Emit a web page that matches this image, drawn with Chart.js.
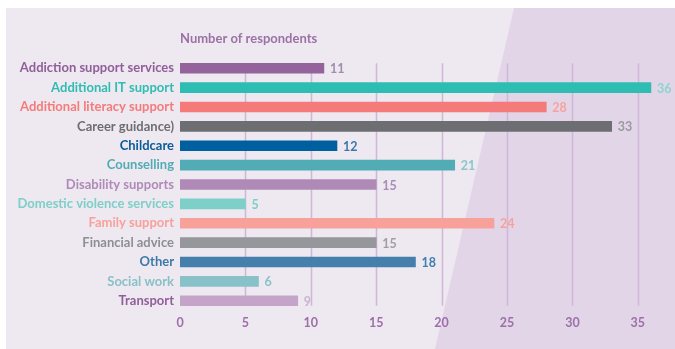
<!DOCTYPE html>
<html>
<head>
<meta charset="utf-8">
<script src="https://cdn.jsdelivr.net/npm/chart.js@4/dist/chart.umd.min.js"></script>
<style>
  html, body { margin: 0; padding: 0; background: #fff; }
  #wrap { width: 675px; height: 349px; position: relative; }
</style>
</head>
<body>
<div id="wrap"><canvas id="supportChart" width="675" height="349"></canvas></div>
<script>
const services = [
  'Addiction support services', 'Additional IT support', 'Additional literacy support',
  'Career guidance)', 'Childcare', 'Counselling', 'Disability supports',
  'Domestic violence services', 'Family support', 'Financial advice', 'Other',
  'Social work', 'Transport'
];
const respondents = [11, 36, 28, 33, 12, 21, 15, 5, 24, 15, 18, 6, 9];
const xTicks = [0, 5, 10, 15, 20, 25, 30, 35];

const barColors = ['#95639b', '#2ebdb3', '#f47b7a', '#6d6e71', '#005f9f', '#52acb5', '#b08ab7',
  '#7dcfc8', '#f8a19a', '#96979a', '#4580ad', '#88c1c8', '#c4a5c9'];
const labelColors = ['#8f5f99', '#2ebdb3', '#f47b7a', '#6d6e71', '#0a5c99', '#52acb5', '#b08ab7',
  '#7dcfc8', '#f8a19a', '#8e8f92', '#3d79a8', '#88c1c8', '#8f5f99'];
const valueColors = ['#a08eab', '#8fd3cf', '#f7a29e', '#9a9a9e', '#3d78aa', '#8ac6cc', '#a98db5',
  '#7dcfc8', '#f8a19a', '#a0a0a3', '#3f7fb0', '#88c1c8', '#cbb6cf'];

const FONT = 'Lato, "Open Sans", sans-serif';

// panel background with the darker slanted block on the right
const backdrop = {
  id: 'backdrop',
  beforeDraw(chart) {
    const { ctx, width, height } = chart;
    ctx.save();
    ctx.fillStyle = '#ffffff';
    ctx.fillRect(0, 0, width, height);
    ctx.fillStyle = '#eee8f0';
    ctx.fillRect(6, 8, width - 6, height - 8);
    ctx.fillStyle = '#e2d5e7';
    ctx.beginPath();
    ctx.moveTo(514, 8);
    ctx.lineTo(width, 8);
    ctx.lineTo(width, height);
    ctx.lineTo(435, height);
    ctx.closePath();
    ctx.fill();
    ctx.restore();
  }
};

// vertical gridlines, a bit shorter than the plot area
const gridLines = {
  id: 'gridLines',
  beforeDatasetsDraw(chart) {
    const { ctx, scales: { x, y } } = chart;
    const top = y.getPixelForValue(0) - 5;
    const bottom = y.getPixelForValue(services.length - 1) + 5;
    ctx.save();
    ctx.strokeStyle = '#cfb7d8';
    ctx.lineWidth = 1.5;
    xTicks.filter(v => v > 0).forEach(v => {
      const px = Math.round(x.getPixelForValue(v)) + 0.5;
      ctx.beginPath();
      ctx.moveTo(px, top);
      ctx.lineTo(px, bottom);
      ctx.stroke();
    });
    ctx.restore();
  }
};

// numbers at the end of each bar
const valueLabels = {
  id: 'valueLabels',
  afterDatasetsDraw(chart) {
    const { ctx } = chart;
    const meta = chart.getDatasetMeta(0);
    ctx.save();
    ctx.font = 'bold 12.5px ' + FONT;
    ctx.textBaseline = 'middle';
    ctx.textAlign = 'left';
    meta.data.forEach((bar, i) => {
      ctx.fillStyle = valueColors[i];
      ctx.fillText(String(respondents[i]), bar.x + 6, bar.y + 1);
    });
    ctx.restore();
  }
};

new Chart(document.getElementById('supportChart'), {
  type: 'bar',
  data: {
    labels: services,
    datasets: [{
      data: respondents,
      backgroundColor: barColors,
      barThickness: 10,
      borderWidth: 0
    }]
  },
  options: {
    indexAxis: 'y',
    responsive: false,
    animation: false,
    layout: { padding: { left: 0, right: 11, top: 0, bottom: 0 } },
    plugins: {
      legend: { display: false },
      tooltip: { enabled: false },
      title: {
        display: true,
        text: 'Number of respondents',
        align: 'start',
        fullSize: false,
        color: '#9b72a6',
        font: { family: FONT, size: 13, weight: 'bold' },
        padding: { top: 31, bottom: 12 }
      }
    },
    scales: {
      x: {
        min: 0,
        max: 37,
        border: { display: false },
        grid: { display: false, drawTicks: false },
        afterBuildTicks(scale) {
          scale.ticks = xTicks.map(v => ({ value: v }));
        },
        afterFit(scale) { scale.height = 38.6; },
        ticks: {
          padding: 5,
          color: '#9c6fa9',
          font: { family: FONT, size: 12.5, weight: 'bold' }
        }
      },
      y: {
        border: { display: false },
        grid: { display: false, drawTicks: false },
        afterFit(scale) { scale.width = 180; },
        ticks: {
          padding: 6,
          color: ctx => labelColors[ctx.index],
          font: { family: FONT, size: 13, weight: 'bold' }
        }
      }
    }
  },
  plugins: [backdrop, gridLines, valueLabels]
});
</script>
</body>
</html>
